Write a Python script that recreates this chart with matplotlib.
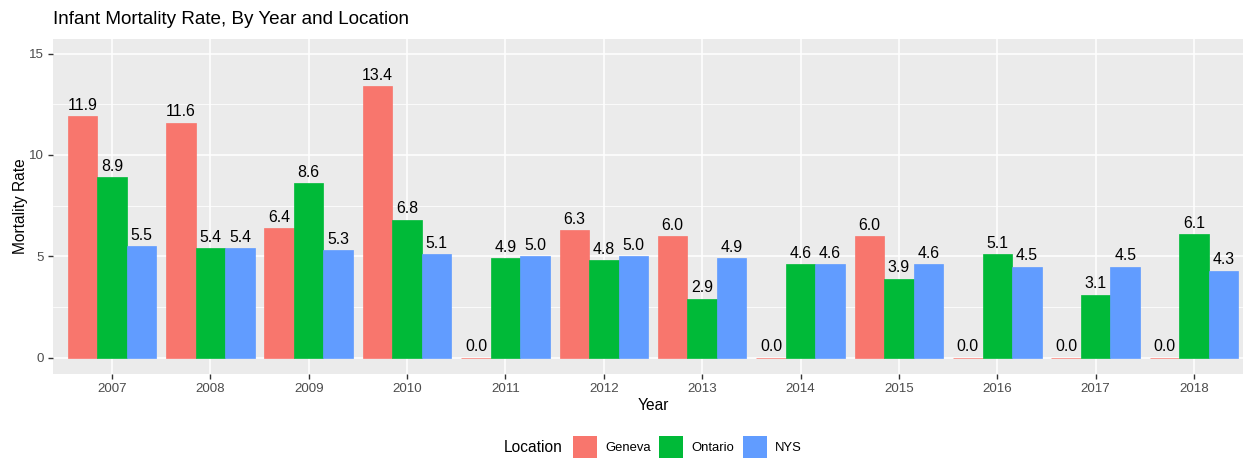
import numpy as np
import matplotlib
matplotlib.use("Agg")
import matplotlib.pyplot as plt
from matplotlib.patches import Rectangle

plt.rcParams['font.family'] = ['Liberation Sans', 'DejaVu Sans']

# Data
years = ['2007', '2008', '2009', '2010', '2011', '2012',
         '2013', '2014', '2015', '2016', '2017', '2018']
geneva = [11.9, 11.6, 6.4, 13.4, 0.0, 6.3, 6.0, 0.0, 6.0, 0.0, 0.0, 0.0]
ontario = [8.9, 5.4, 8.6, 6.8, 4.9, 4.8, 2.9, 4.6, 3.9, 5.1, 3.1, 6.1]
nys = [5.5, 5.4, 5.3, 5.1, 5.0, 5.0, 4.9, 4.6, 4.6, 4.5, 4.5, 4.3]

locations = ['Geneva', 'Ontario', 'NYS']
colors = ['#F8766D', '#00BA38', '#619CFF']

W, H = 1243, 458
fig = plt.figure(figsize=(W / 100, H / 100), dpi=100)

# panel in pixel coords (right edge runs off the image like the reference)
left, right, top, bottom = 53, 1253, 39, 374
ax = fig.add_axes([left / W, 1 - bottom / H, (right - left) / W, (bottom - top) / H])
ax.set_facecolor('#EBEBEB')
for s in ax.spines.values():
    s.set_visible(False)

x = np.arange(len(years))
bw = 0.3
for i, (name, vals) in enumerate(zip(locations, [geneva, ontario, nys])):
    pos = x + (i - 1) * bw
    # thin same-colour edge so zero-height bars still show as a line
    ax.bar(pos, vals, width=bw, color=colors[i], edgecolor=colors[i],
           linewidth=0.5, zorder=3)
    for px, v in zip(pos, vals):
        ax.annotate(f'{v:.1f}', (px, v), xytext=(0, 2.5), textcoords='offset points',
                    ha='center', va='bottom', fontsize=11.4, color='black', zorder=4)

ax.set_xlim(-0.6, len(years) - 1 + 0.6)
ax.set_ylim(-0.8, 15.72)

ax.set_yticks([0, 5, 10, 15])
ax.set_yticks([2.5, 7.5, 12.5], minor=True)
ax.set_xticks(x)
ax.set_xticklabels(years)
ax.grid(which='major', color='white', linewidth=1.1, zorder=0)
ax.grid(which='minor', axis='y', color='white', linewidth=0.55, zorder=0)
ax.set_axisbelow(True)
ax.tick_params(which='major', length=3.5, width=1.0, color='#333333',
               labelsize=9.6, labelcolor='#4D4D4D', pad=3)
ax.tick_params(which='minor', length=0)

ax.set_xlabel('Year', fontsize=11.2, labelpad=2)
ax.set_ylabel('Mortality Rate', fontsize=11.2, labelpad=0.5)

fig.text(53 / W, 1 - 20 / H, 'Infant Mortality Rate, By Year and Location',
         fontsize=13.6, ha='left', va='center')

# legend along the bottom, title on the left
ly = 448
fig.text(504 / W, 1 - ly / H, 'Location', fontsize=11.2, ha='left', va='center')
swatch_x = [573, 659, 743]
for sx, name, c in zip(swatch_x, locations, colors):
    fig.patches.append(Rectangle((sx / W, 1 - (ly + 12) / H), 24 / W, 24 / H,
                                 transform=fig.transFigure, facecolor=c,
                                 edgecolor='none'))
    fig.text((sx + 32) / W, 1 - ly / H, name, fontsize=9.4, ha='left', va='center')

fig.savefig('out.png', dpi=100)
